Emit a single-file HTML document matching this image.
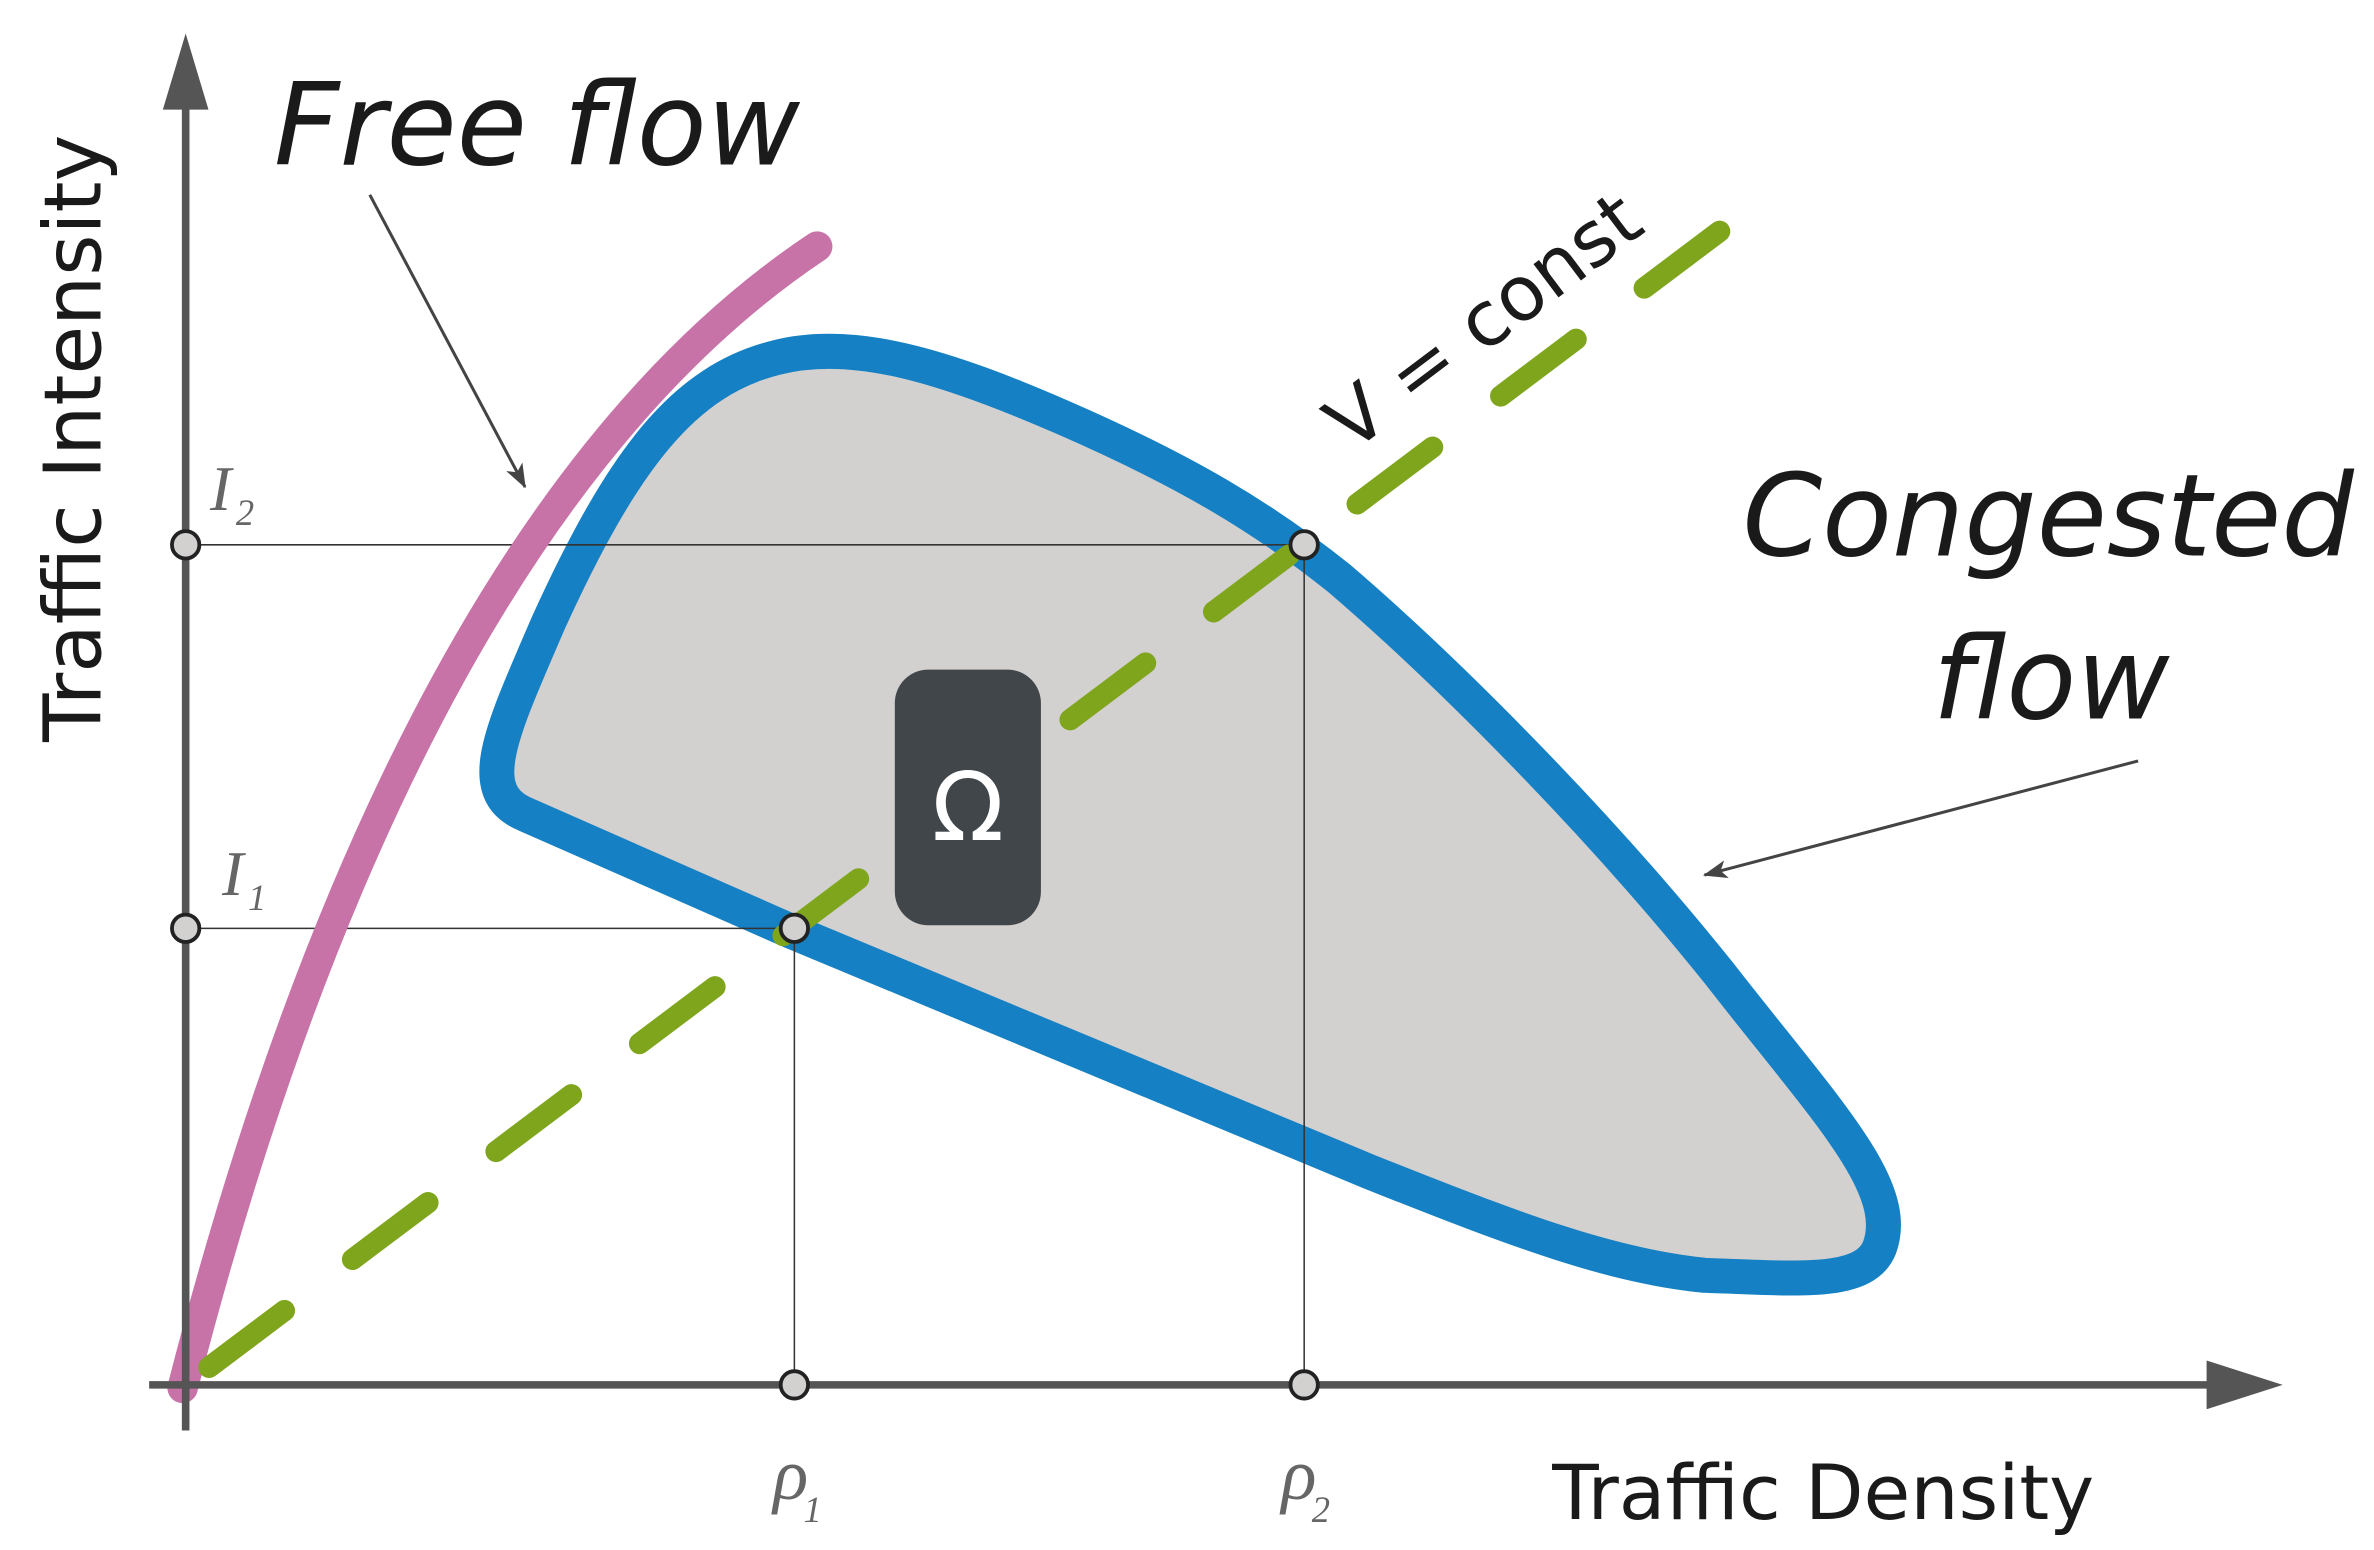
<!DOCTYPE html>
<html><head><meta charset="utf-8"><style>html,body{margin:0;padding:0;background:#fff}svg{display:block}</style></head>
<body>
<svg width="2374" height="1550" viewBox="0 0 1560 1018.5" preserveAspectRatio="none" xmlns="http://www.w3.org/2000/svg" font-family="'DejaVu Sans','Liberation Sans',sans-serif">
<defs>
<marker id="ah" markerWidth="16" markerHeight="12" refX="15" refY="6" orient="auto" markerUnits="userSpaceOnUse" viewBox="0 0 16 12"><path d="M0,0 L16,6 L0,12 L4,6 Z" fill="#444"/></marker>
</defs>
<path d="M345,535 C310,520 330,480 360,410 C410,300 450,250 510,235 C560,222 620,240 700,275 C780,310 830,340 880,380 C950,440 1050,540 1130,640 C1200,730 1250,780 1235,820 C1225,845 1180,840 1120,838 C1060,832 1000,810 900,770 L520,612 L345,535 Z" fill="#d3d0d0" stroke="#1580c3" stroke-width="23" stroke-linejoin="round"/>
<g stroke="#333" stroke-width="1" fill="none">
<path d="M122,358 H857 V910"/>
<path d="M122,610 H522 V910"/>
</g>
<path d="M120,912 C200,600 330,300 537,162" fill="none" stroke="#c873a8" stroke-width="20" stroke-linecap="round"/>
<path d="M1130,152 L122,910" fill="none" stroke="#7fa51d" stroke-width="14" stroke-linecap="round" stroke-dasharray="62 56"/>
<g stroke="#555" stroke-width="5" fill="none">
<path d="M122,940 V60"/>
<path d="M98,910 H1460"/>
</g>
<path d="M122,22 L107,72 L137,72 Z" fill="#555"/>
<path d="M1500,910 L1450,894 L1450,926 Z" fill="#555"/>
<g fill="#d3d0d0" stroke="#222" stroke-width="2.5">
<circle cx="122" cy="358" r="9"/><circle cx="122" cy="610" r="9"/>
<circle cx="522" cy="610" r="9"/><circle cx="857" cy="358" r="9"/>
<circle cx="522" cy="910" r="9"/><circle cx="857" cy="910" r="9"/>
</g>
<rect x="588" y="440" width="96" height="168" rx="22" fill="#41464a"/>
<text x="636" y="552" font-size="62" fill="#fff" text-anchor="middle">Ω</text>
<line x1="243" y1="128" x2="345" y2="320" stroke="#444" stroke-width="2" marker-end="url(#ah)"/>
<line x1="1405" y1="500" x2="1120" y2="575" stroke="#444" stroke-width="2" marker-end="url(#ah)"/>
<g fill="#1a1a1a" font-style="italic" font-size="75">
<text x="180" y="108">Free flow</text>
<text x="1145" y="365">Congested</text>
<text x="1270" y="472">flow</text>
</g>
<text transform="translate(888,298) rotate(-37)" font-size="50" fill="#1a1a1a">V = const</text>
<text transform="translate(66,288) rotate(-90)" font-size="52" fill="#1a1a1a" text-anchor="middle">Traffic Intensity</text>
<text x="1020" y="998" font-size="50" fill="#1a1a1a">Traffic Density</text>
<g fill="#666" font-style="italic" font-family="'Liberation Serif',serif">
<text x="138" y="335" font-size="42">I</text><text x="155" y="345" font-size="24">2</text>
<text x="146" y="588" font-size="42">I</text><text x="163" y="598" font-size="24">1</text>
<text x="508" y="985" font-size="48">ρ</text><text x="528" y="1000" font-size="24">1</text>
<text x="842" y="985" font-size="48">ρ</text><text x="862" y="1000" font-size="24">2</text>
</g>
</svg>
</body></html>
